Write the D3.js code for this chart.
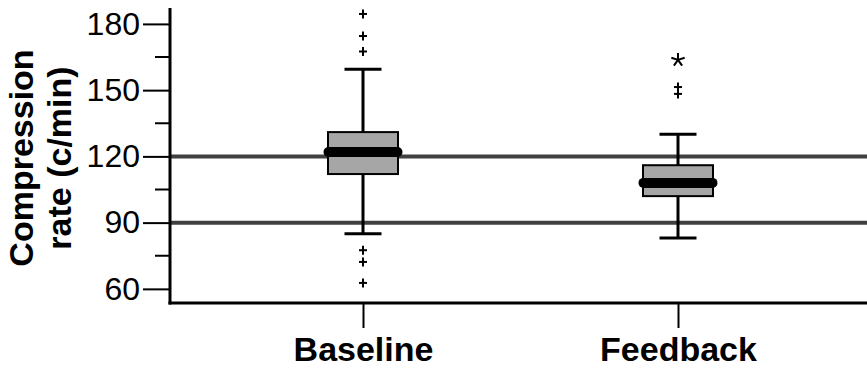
<!DOCTYPE html>
<html>
<head>
<meta charset="utf-8">
<script src="https://cdn.jsdelivr.net/npm/d3@7"></script>
<style>
  body { margin: 0; background: #fff; }
  svg { display: block; font-family: Arial, "Liberation Sans", sans-serif; }
</style>
</head>
<body>
<div id="chart"></div>
<script>
// box plot summary values
var categories = ['Baseline', 'Feedback'];
var whiskerLow = [85, 83];
var q1 = [112, 102];
var median = [122, 108];
var q3 = [131, 116];
var whiskerHigh = [159.5, 130];
var outliers = [[184.5, 174.5, 167.5, 77.5, 72.2, 62.7], [151.4, 148.3]];
var extremes = [[], [163.7]];
var refLines = [120, 90];
var majorTicks = [60, 90, 120, 150, 180];
var minorTicks = [75, 105, 135, 165];

var width = 867,
    height = 369,
    axisX = 170,
    axisY = 303;

var svg = d3.select('#chart')
    .append('svg')
    .attr('width', width)
    .attr('height', height);

var y = d3.scaleLinear().domain([53.6, 187.2]).range([303, 8]);
var x = d3.scalePoint().domain(categories).range([363, 678]);

// reference lines
svg.append('g').selectAll('line')
    .data(refLines)
    .enter()
    .append('line')
    .attr('x1', axisX)
    .attr('x2', width)
    .attr('y1', function(d) { return y(d); })
    .attr('y2', function(d) { return y(d); })
    .attr('stroke', '#404040')
    .attr('stroke-width', 4);

// y axis
var yAxis = svg.append('g')
    .attr('transform', 'translate(' + axisX + ',0)')
    .call(d3.axisLeft(y).tickValues(majorTicks).tickSize(27).tickPadding(3).tickSizeOuter(0));
yAxis.select('.domain').remove();
yAxis.selectAll('.tick line').attr('stroke', '#000').attr('stroke-width', 2);
yAxis.selectAll('.tick text')
    .attr('font-size', 32)
    .attr('fill', '#000')
    .attr('font-family', 'Arial, "Liberation Sans", sans-serif');

svg.append('g').selectAll('line')
    .data(minorTicks)
    .enter()
    .append('line')
    .attr('x1', axisX - 15)
    .attr('x2', axisX)
    .attr('y1', function(d) { return y(d); })
    .attr('y2', function(d) { return y(d); })
    .attr('stroke', '#000')
    .attr('stroke-width', 2);

svg.append('line')
    .attr('x1', axisX).attr('x2', axisX)
    .attr('y1', 8).attr('y2', axisY + 1.5)
    .attr('stroke', '#000').attr('stroke-width', 3);

// x axis
svg.append('line')
    .attr('x1', axisX - 1.5).attr('x2', width)
    .attr('y1', axisY).attr('y2', axisY)
    .attr('stroke', '#000').attr('stroke-width', 3);

var xAxis = svg.append('g')
    .attr('transform', 'translate(0,' + axisY + ')')
    .call(d3.axisBottom(x).tickSize(25).tickPadding(9).tickSizeOuter(0));
xAxis.select('.domain').remove();
xAxis.selectAll('.tick line').attr('stroke', '#000').attr('stroke-width', 2);
xAxis.selectAll('.tick text')
    .attr('font-size', 34)
    .attr('font-weight', 'bold')
    .attr('fill', '#000')
    .attr('font-family', 'Arial, "Liberation Sans", sans-serif');

// y title
var title = svg.append('text')
    .attr('transform', 'translate(0,158) rotate(-90)')
    .attr('text-anchor', 'middle')
    .attr('font-size', 34)
    .attr('font-weight', 'bold');
title.append('tspan').attr('x', 0).attr('y', 33).text('Compression');
title.append('tspan').attr('x', 0).attr('y', 71).text('rate (c/min)');

// boxes
var boxW = 70, capW = 37, medW = 79;
var boxes = svg.append('g').selectAll('g')
    .data(categories)
    .enter()
    .append('g');

boxes.append('line')
    .attr('x1', function(d) { return x(d); })
    .attr('x2', function(d) { return x(d); })
    .attr('y1', function(d, i) { return y(whiskerHigh[i]); })
    .attr('y2', function(d, i) { return y(whiskerLow[i]); })
    .attr('stroke', '#000').attr('stroke-width', 3);

boxes.selectAll('.cap')
    .data(function(d, i) { return [{c: d, v: whiskerHigh[i]}, {c: d, v: whiskerLow[i]}]; })
    .enter()
    .append('line')
    .attr('class', 'cap')
    .attr('x1', function(d) { return x(d.c) - capW / 2; })
    .attr('x2', function(d) { return x(d.c) + capW / 2; })
    .attr('y1', function(d) { return y(d.v); })
    .attr('y2', function(d) { return y(d.v); })
    .attr('stroke', '#000').attr('stroke-width', 3);

boxes.append('rect')
    .attr('x', function(d) { return x(d) - boxW / 2; })
    .attr('width', boxW)
    .attr('y', function(d, i) { return y(q3[i]); })
    .attr('height', function(d, i) { return y(q1[i]) - y(q3[i]); })
    .attr('fill', '#a6a6a6')
    .attr('stroke', '#000')
    .attr('stroke-width', 2);

boxes.append('line')
    .attr('x1', function(d) { return x(d) - medW / 2 + 5; })
    .attr('x2', function(d) { return x(d) + medW / 2 - 5; })
    .attr('y1', function(d, i) { return y(median[i]); })
    .attr('y2', function(d, i) { return y(median[i]); })
    .attr('stroke', '#000')
    .attr('stroke-width', 10)
    .attr('stroke-linecap', 'round');

// outliers as small plus marks
boxes.selectAll('.out')
    .data(function(d, i) { return outliers[i].map(function(v) { return {c: d, v: v}; }); })
    .enter()
    .append('g')
    .attr('class', 'out')
    .attr('transform', function(d) { return 'translate(' + x(d.c) + ',' + y(d.v) + ')'; })
    .each(function() {
        var g = d3.select(this);
        g.append('line').attr('x1', -4).attr('x2', 4).attr('y1', 0).attr('y2', 0)
            .attr('stroke', '#000').attr('stroke-width', 2);
        g.append('line').attr('x1', 0).attr('x2', 0).attr('y1', -4.5).attr('y2', 4.5)
            .attr('stroke', '#000').attr('stroke-width', 2);
    });

// extremes as asterisks
boxes.selectAll('.ext')
    .data(function(d, i) { return extremes[i].map(function(v) { return {c: d, v: v}; }); })
    .enter()
    .append('path')
    .attr('class', 'ext')
    .attr('transform', function(d) { return 'translate(' + x(d.c) + ',' + y(d.v) + ')'; })
    .attr('d', function() {
        var r = 7, p = '';
        for (var k = 0; k < 5; k++) {
            var a = -Math.PI / 2 + k * 2 * Math.PI / 5;
            p += 'M0,0L' + (r * Math.cos(a)).toFixed(2) + ',' + (r * Math.sin(a)).toFixed(2);
        }
        return p;
    })
    .attr('stroke', '#000')
    .attr('stroke-width', 2)
    .attr('fill', 'none');
</script>
</body>
</html>
